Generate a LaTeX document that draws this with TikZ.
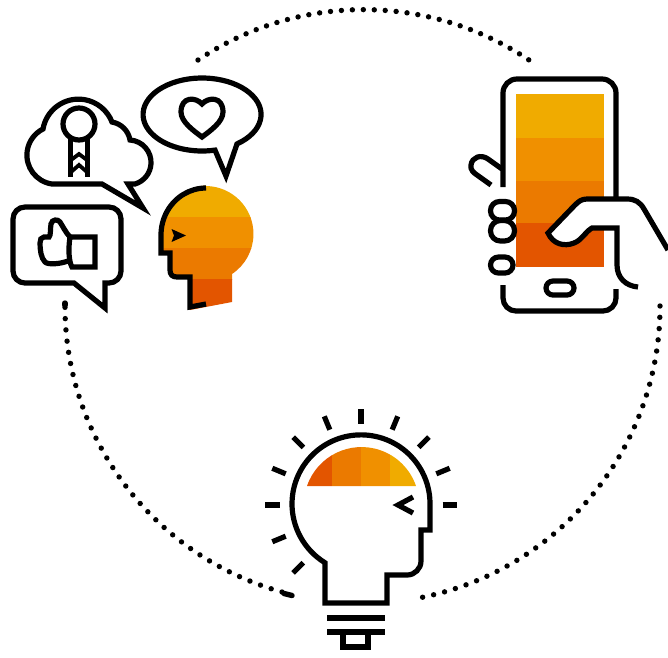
\documentclass[tikz,border=0pt]{standalone}
\usetikzlibrary{svg.path}
\definecolor{bandA}{HTML}{F0AB00}
\definecolor{bandB}{HTML}{F09000}
\definecolor{bandC}{HTML}{EB7A00}
\definecolor{bandD}{HTML}{E35500}
\tikzset{
  ink/.style={draw=black,line width=5.2pt,line join=miter,miter limit=10},
  thinink/.style={draw=black,line width=3.8pt,line join=miter},
  dotline/.style={draw=black,line width=5.4pt,line cap=round,dash pattern=on 0pt off 11.3pt}
}
\begin{document}
\begin{tikzpicture}[x=1pt,y=1pt,yscale=-1]
\useasboundingbox (0,0) rectangle (668,657);
% dotted ring
\path[dotline,dash pattern=on 0pt off 10.96pt] svg {M 198 60 A 297 297 0 0 1 529 60};
\path[dotline] svg {M 660 306 A 297 297 0 0 1 419 598};
\path[dotline] svg {M 282 592 A 297 297 0 0 1 65 309};
\draw[black,line width=5.4pt,line cap=round] (284,593.5) -- (292,595.5);
\draw[black,line width=5.4pt,line cap=round] (65,303) -- (65,305);
% orange head
\begin{scope}
\clip svg {M 206 186 A 48 48 0 0 1 232 274 V 302 L 190 310 V 277 H 177 Q 170 277 170 270 V 253 H 161 V 232 A 47 47 0 0 1 206 186 Z};
\fill[bandA] (150,180) rectangle (260,217.5);
\fill[bandB] (150,217) rectangle (260,248.5);
\fill[bandC] (150,248) rectangle (260,279.5);
\fill[bandD] (150,279) rectangle (260,315);
\end{scope}
\path[ink] svg {M 206 188 A 45 47 0 0 0 161 235 V 253 H 170 V 270 Q 170 277 177 277 H 190 V 307 L 206 304};
\fill[black] (171.5,229) -- (186,235.5) -- (171.5,242) -- (174,235.5) -- cycle;
% heart bubble
\path[ink] svg {M 237 143.9 A 59 36.5 0 1 0 215 150.1 L 226 176 Z};
\path[ink] svg {M 202 104 C 196 97 181 96 181 112 C 181 122 194 131 202 137 C 210 131 223 122 223 112 C 223 96 208 97 202 104 Z};
% cloud bubble
\path[ink] svg {M 102 184 H 52 A 29.2 29.2 0 0 1 43 129 A 36 36 0 0 1 112 122 A 22 22 0 0 1 130 140 A 22.5 22.5 0 0 1 135 184 H 128 L 143 208 Z};
\draw[ink] (79,124) circle[radius=16];
\path[ink] svg {M 70.5 139 V 177 M 87.5 139 V 177};
\path[thinink] svg {M 71 160 L 79 154 L 87 160 M 71 172 L 79 165 L 87 172};
% thumb bubble
\path[ink] svg {M 107 283 H 109 A 12 12 0 0 0 121 271 V 219 A 12 12 0 0 0 109 207 H 25 A 12 12 0 0 0 13 219 V 271 A 12 12 0 0 0 25 283 H 74 L 105 308 V 283 Z};
\path[ink] svg {M 70 237 H 95 V 267 H 72 C 69 262 68 250 70 237 Z};
\path[ink] svg {M 70 237 C 66 233 62 225 60 222 C 58 219 52 219 51 224 C 50 230 51 235 49 237 H 44 C 41 237 40 240 40 243 C 40 250 41 258 45 262 C 48 265 60 264 68 261};
% phone
\fill[bandA] (516,94) rectangle (604,138.5);
\fill[bandB] (516,138) rectangle (604,181.5);
\fill[bandC] (516,181) rectangle (603.5,223.5);
\fill[bandD] (516,223) rectangle (603.5,267);
\path[ink] svg {M 503 187 V 93 A 14 14 0 0 1 517 79 H 602 A 14 14 0 0 1 616 93 V 197};
\path[ink] svg {M 503 285 V 298 A 13 13 0 0 0 516 311 H 603 A 13 13 0 0 0 616 298 V 289};
\path[ink] svg {M 502 169 L 488 159 C 481 154 472 157 471 165 C 470 170 474 173 477 175 L 491 185};
\draw[ink,fill=white,rounded corners=9pt] (490.5,201.5) rectangle (514.5,220);
\draw[ink,fill=white,rounded corners=10pt] (490.5,220.5) rectangle (514.5,241);
\draw[ink,fill=white,rounded corners=8pt] (490.5,257) rectangle (513,273);
\draw[ink,fill=white,rounded corners=7pt] (546,281) rectangle (574,295);
% hand
\fill[white] svg {M 548 233 L 575 205 C 579 201 582 199 587 199 H 627 C 635 199 640 202 644 209 L 668 250 V 270 H 617 V 228 H 592 C 585 232 582 240 574 243 C 564 247 553 244 548 233 Z};
\path[ink] svg {M 668 250 L 644 209 C 640 202 635 199 627 199 H 587 C 582 199 579 201 575 205 L 548 233 C 553 244 564 247 574 243 C 582 240 585 232 592 228 H 617 V 265 C 617 278 626 286 638 287};
% bulb cap
\begin{scope}
\clip svg {M 307 486 A 57.6 57.6 0 0 1 416 486 Z};
\fill[bandD] (300,440) rectangle (332.3,490);
\fill[bandC] (332,440) rectangle (361.3,490);
\fill[bandB] (361,440) rectangle (390.3,490);
\fill[bandA] (390,440) rectangle (420,490);
\end{scope}
% bulb head
\path[ink] svg {M 325 603 H 387 V 575 H 407 A 14 14 0 0 0 421 561 V 530 H 430 V 505 A 69 69 0 1 0 325 562 Z};
\path[ink] svg {M 413 497 L 398 505 L 413 513};
\foreach \a in {135,157.5,180,202.5,225,247.5,270,292.5,315,337.5,360}{
  \draw[black,line width=5.2pt] (361,505) ++(\a:81.5) -- ++(\a:14.5);
}
\path[ink] svg {M 327 618 H 385 M 327 632 H 385 M 343 632 V 647 H 368 V 632};
\end{tikzpicture}
\end{document}
